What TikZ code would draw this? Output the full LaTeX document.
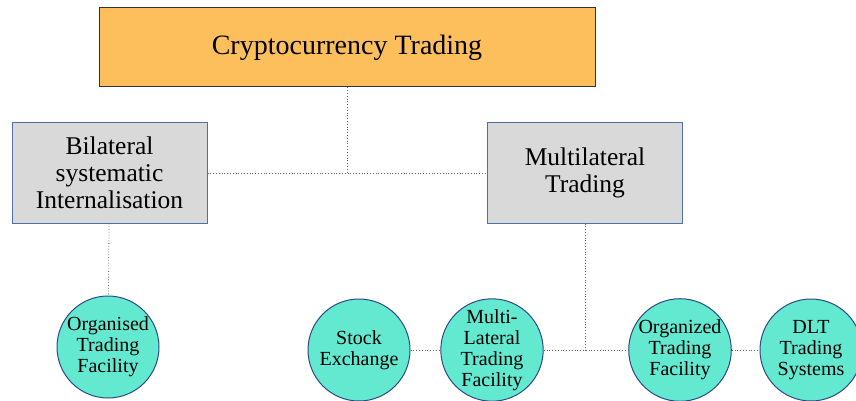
\documentclass[tikz,border=0pt]{standalone}
\usepackage{fontspec}
\setmainfont{Liberation Serif}
\usetikzlibrary{positioning}
\definecolor{titlefill}{HTML}{FDBF5C}
\definecolor{boxfill}{HTML}{D9D9D9}
\definecolor{boxline}{HTML}{4E6EAE}
\definecolor{venuefill}{HTML}{62E9D0}
\definecolor{venueline}{HTML}{2E4A86}
\begin{document}
\begin{tikzpicture}[x=1pt, y=-1pt,
  titlebox/.style = {draw=black!80, fill=titlefill, line width=1pt, minimum width=496pt, minimum height=79pt, inner sep=0pt, font=\fontsize{28}{34}\selectfont},
  kindbox/.style = {draw=boxline, fill=boxfill, line width=1pt, minimum width=195pt, minimum height=100pt, inner sep=0pt, align=center, font=\fontsize{25.5}{27}\selectfont},
  venue/.style = {circle, draw=venueline, fill=venuefill, line width=1pt, minimum size=102pt, inner sep=0pt, align=center, font=\fontsize{20}{21}\selectfont},
  link/.style = {draw=black!60, dotted, line width=0.8pt}]
\useasboundingbox (0,0) rectangle (856,401);
\node [titlebox] (crypto) at (347,47.5) {Cryptocurrency Trading};
\node [kindbox] (bilateral) at (109.5,173) {Bilateral\\systematic\\Internalisation};
\node [kindbox] (multilateral) at (585,173) {Multilateral\\Trading};
\node [venue] (otfuk) at (108,347) {Organised\\Trading\\Facility};
\node [venue] (stock) at (359,350) {Stock\\Exchange};
\node [venue] (mtf) at (492,350) {Multi-\\Lateral\\Trading\\Facility};
\node [venue] (otf) at (680,350) {Organized\\Trading\\Facility};
\node [venue] (dlt) at (811,350) {DLT\\Trading\\Systems};
\coordinate (top) at (crypto.south |- bilateral.east);
\coordinate (split) at (multilateral.south |- mtf.east);
% tree links
\draw [link] (crypto.south) -- (top);
\draw [link] (bilateral) -- (multilateral);
\draw [link] (bilateral) -- (otfuk);
\draw [link] (multilateral) -- (split);
\draw [link] (stock) -- (mtf);
\draw [link] (mtf) -- (otf);
\draw [link] (otf) -- (dlt);
\end{tikzpicture}
\end{document}
